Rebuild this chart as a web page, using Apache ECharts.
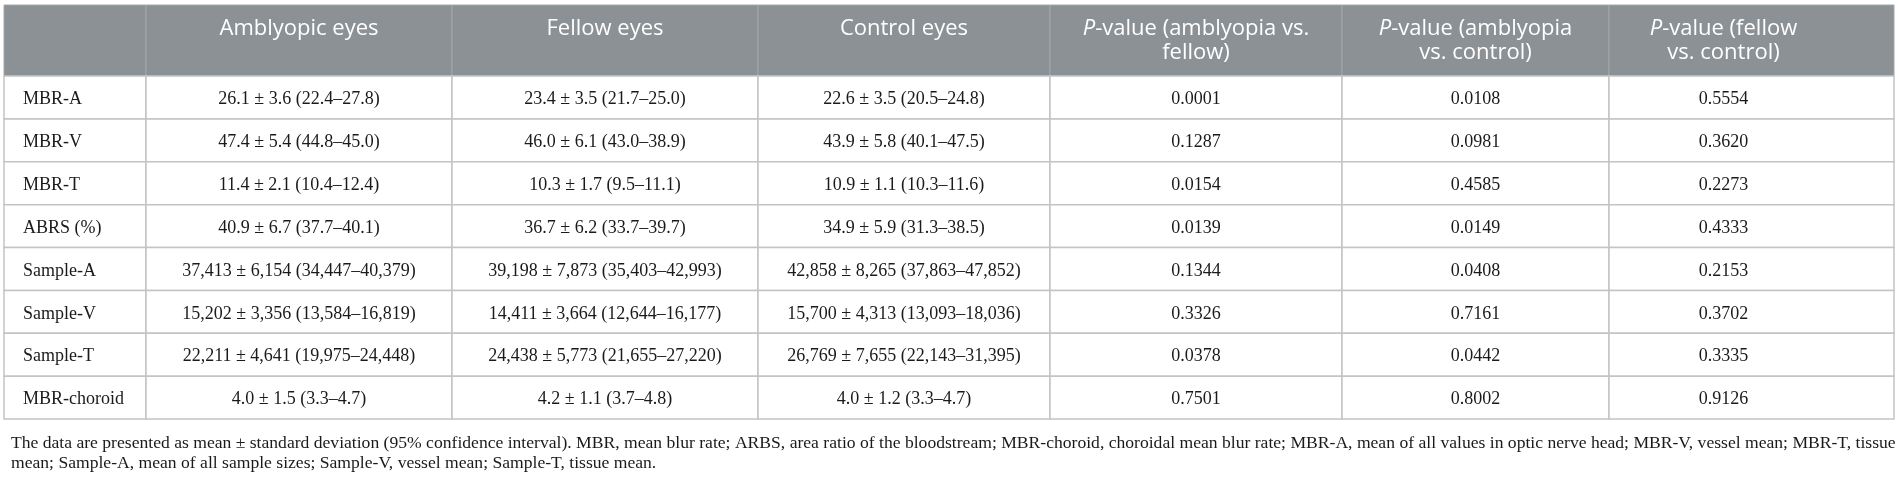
<!DOCTYPE html>
<html>
<head>
<meta charset="utf-8">
<script src="https://cdn.jsdelivr.net/npm/echarts@6/dist/echarts.min.js"></script>
<style>
html,body{margin:0;padding:0;background:#fff;}
#main{width:1901px;height:477px;}
</style>
</head>
<body>
<div id="main"></div>
<script>
// table content
var headers = ['', 'Amblyopic eyes', 'Fellow eyes', 'Control eyes',
    '{i|P}-value (amblyopia vs.\nfellow)',
    '{i|P}-value (amblyopia\nvs. control)',
    '{i|P}-value (fellow\nvs. control)'];
var measures = ['MBR-A', 'MBR-V', 'MBR-T', 'ABRS (%)', 'Sample-A', 'Sample-V', 'Sample-T', 'MBR-choroid'];
var amblyopic = ['26.1 ± 3.6 (22.4–27.8)', '47.4 ± 5.4 (44.8–45.0)', '11.4 ± 2.1 (10.4–12.4)', '40.9 ± 6.7 (37.7–40.1)',
    '37,413 ± 6,154 (34,447–40,379)', '15,202 ± 3,356 (13,584–16,819)', '22,211 ± 4,641 (19,975–24,448)', '4.0 ± 1.5 (3.3–4.7)'];
var fellow = ['23.4 ± 3.5 (21.7–25.0)', '46.0 ± 6.1 (43.0–38.9)', '10.3 ± 1.7 (9.5–11.1)', '36.7 ± 6.2 (33.7–39.7)',
    '39,198 ± 7,873 (35,403–42,993)', '14,411 ± 3,664 (12,644–16,177)', '24,438 ± 5,773 (21,655–27,220)', '4.2 ± 1.1 (3.7–4.8)'];
var control = ['22.6 ± 3.5 (20.5–24.8)', '43.9 ± 5.8 (40.1–47.5)', '10.9 ± 1.1 (10.3–11.6)', '34.9 ± 5.9 (31.3–38.5)',
    '42,858 ± 8,265 (37,863–47,852)', '15,700 ± 4,313 (13,093–18,036)', '26,769 ± 7,655 (22,143–31,395)', '4.0 ± 1.2 (3.3–4.7)'];
var pAmbFellow = ['0.0001', '0.1287', '0.0154', '0.0139', '0.1344', '0.3326', '0.0378', '0.7501'];
var pAmbControl = ['0.0108', '0.0981', '0.4585', '0.0149', '0.0408', '0.7161', '0.0442', '0.8002'];
var pFellowControl = ['0.5554', '0.3620', '0.2273', '0.4333', '0.2153', '0.3702', '0.3335', '0.9126'];
var footnote = [
    'The data are presented as mean ± standard deviation (95% confidence interval). MBR, mean blur rate; ARBS, area ratio of the bloodstream; MBR-choroid, choroidal mean blur rate; MBR-A, mean of all values in optic nerve head; MBR-V, vessel mean; MBR-T, tissue',
    'mean; Sample-A, mean of all sample sizes; Sample-V, vessel mean; Sample-T, tissue mean.'
];

// layout (table units = px inside the grid)
var colWidths = [142, 306, 306, 292, 292, 267, 285];
var textShift = [0, 0, 0, 0, 0, 0, -28];
var headH = 71;
var rowH = 42.875;

var colEdges = [0];
for (var c = 0; c < colWidths.length; c++) colEdges.push(colEdges[c] + colWidths[c]);
var tableW = colEdges[colEdges.length - 1];
var tableH = headH + rowH * measures.length;

var columns = [measures, amblyopic, fellow, control, pAmbFellow, pAmbControl, pFellowControl];
var cells = [];
for (var c = 0; c < headers.length; c++) {
    cells.push([c, -1, headers[c]]);
}
for (var r = 0; r < measures.length; r++) {
    for (var c = 0; c < columns.length; c++) {
        cells.push([c, r, columns[c][r]]);
    }
}

var sansFont = 'Open Sans';
var serifFont = '"Liberation Serif", "Times New Roman", Times, serif';

function renderCell(params, api) {
    var col = api.value(0);
    var row = api.value(1);
    var text = cells[params.dataIndex][2];
    var y0 = row < 0 ? 0 : headH + row * rowH;
    var y1 = row < 0 ? headH : y0 + rowH;
    var p0 = api.coord([colEdges[col], y0]);
    var p1 = api.coord([colEdges[col + 1], y1]);
    var isHead = row < 0;
    var children = [{
        type: 'rect',
        shape: {x: p0[0], y: p0[1], width: p1[0] - p0[0], height: p1[1] - p0[1]},
        style: {
            fill: isHead ? '#8b9195' : '#fff',
            stroke: isHead ? '#a3a8ab' : '#c4c4c4',
            lineWidth: isHead ? 1 : 1.5
        }
    }];
    var tx = col === 0 ? p0[0] + 19 : (p0[0] + p1[0]) / 2 + textShift[col];
    if (isHead) {
        children.push({
            type: 'text',
            style: {
                text: text,
                x: tx, y: p0[1] + 12,
                align: 'center', verticalAlign: 'top',
                fill: '#fff',
                fontFamily: sansFont, fontSize: 22,
                lineHeight: 24,
                rich: {
                    i: {fontStyle: 'italic', fontSize: 22, fontFamily: sansFont, fill: '#fff', lineHeight: 24}
                }
            }
        });
    } else {
        children.push({
            type: 'text',
            style: {
                text: text,
                x: tx, y: (p0[1] + p1[1]) / 2 + 2,
                align: col === 0 ? 'left' : 'center', verticalAlign: 'middle',
                fill: '#1a1a1a',
                fontFamily: serifFont, fontSize: 18
            }
        });
    }
    return {type: 'group', children: children};
}

var myChart = echarts.init(document.getElementById('main'));
var option = {
    animation: false,
    title: {
        text: footnote.join('\n'),
        left: 6, top: 428,
        textStyle: {fontFamily: serifFont, fontSize: 17.6, fontWeight: 'normal', color: '#1a1a1a', lineHeight: 20}
    },
    grid: {left: 4, top: 5, width: tableW, height: tableH},
    xAxis: {type: 'value', min: 0, max: tableW, show: false},
    yAxis: {type: 'value', min: 0, max: tableH, inverse: true, show: false},
    series: [{
        type: 'custom',
        coordinateSystem: 'cartesian2d',
        renderItem: renderCell,
        data: cells.map(function (d) { return [d[0], d[1]]; }),
        clip: false
    }]
};
myChart.setOption(option);
</script>
</body>
</html>
